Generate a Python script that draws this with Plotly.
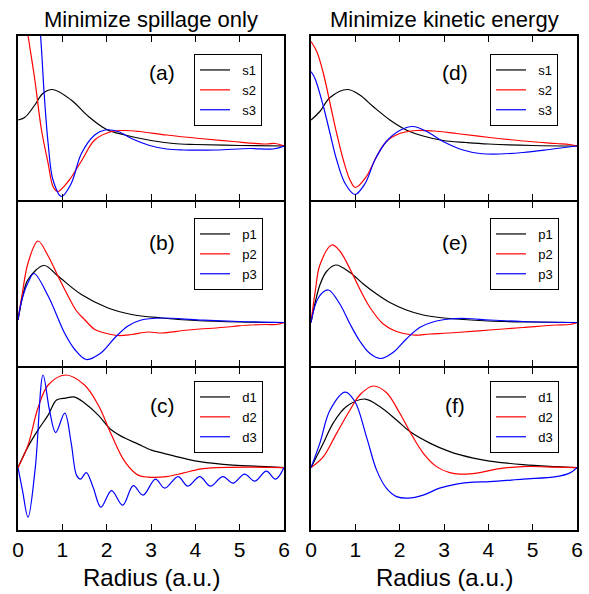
import plotly.graph_objects as go

# ---------------- data (radius in a.u., orbital amplitude in arbitrary units) ----------------
# Panel (a): minimize spillage only, s orbitals
a_s1_x = [0, 0.15, 0.38, 0.56, 0.78, 1.2, 1.59, 2.0, 2.41, 3.0, 3.5, 4.0, 5.0, 6.0]
a_s1_y = [0.52, 0.57, 0.82, 1.05, 1.13, 0.92, 0.59, 0.33, 0.22, 0.11, 0.05, 0.03, 0.01, 0.0]
a_s2_x = [0, 0.1, 0.23, 0.38, 0.53, 0.68, 0.79, 0.89, 1.13, 1.43, 1.73, 2.11, 2.41, 2.74, 3.35, 4.1, 4.85, 5.6, 5.8, 6.0]
a_s2_y = [3.7, 3.0, 2.19, 1.32, 0.32, -0.35, -0.81, -0.91, -0.71, -0.30, 0.12, 0.29, 0.31, 0.29, 0.22, 0.15, 0.09, 0.04, 0.05, 0.0]
a_s3_x = [0, 0.2, 0.4, 0.51, 0.59, 0.68, 0.79, 0.98, 1.2, 1.43, 1.73, 1.96, 2.26, 2.56, 2.97, 3.35, 3.72, 4.47, 5.23, 5.75, 6.0]
a_s3_y = [6.5, 5.0, 3.2, 2.19, 1.05, 0.05, -0.68, -1.01, -0.75, -0.15, 0.22, 0.32, 0.29, 0.15, 0.01, -0.06, -0.08, -0.08, -0.05, -0.06, 0.0]

# Panel (b): minimize spillage only, p orbitals
b_p1_x = [0, 0.1, 0.226, 0.59, 0.9, 1.43, 2.03, 2.56, 3.24, 4.0, 5.0, 6.0]
b_p1_y = [0.05, 0.5, 0.86, 1.14, 0.93, 0.56, 0.29, 0.16, 0.09, 0.04, 0.01, 0.0]
b_p2_x = [0, 0.1, 0.226, 0.45, 0.68, 0.9, 1.13, 1.32, 1.5, 1.73, 1.96, 2.26, 2.56, 2.93, 3.24, 3.72, 4.1, 4.47, 4.85, 5.23, 5.6, 5.83, 6.0]
b_p2_y = [0.05, 0.6, 1.19, 1.63, 1.33, 0.93, 0.53, 0.23, 0.06, -0.14, -0.21, -0.26, -0.24, -0.19, -0.21, -0.16, -0.13, -0.11, -0.08, -0.05, -0.04, -0.04, 0.0]
b_p3_x = [0, 0.1, 0.226, 0.36, 0.68, 1.05, 1.28, 1.54, 1.87, 2.18, 2.48, 2.78, 3.24, 4.1, 5.0, 6.0]
b_p3_y = [0.05, 0.5, 0.8, 0.98, 0.53, -0.21, -0.54, -0.74, -0.61, -0.31, -0.07, 0.05, 0.09, 0.05, 0.02, 0.0]

# Panel (c): minimize spillage only, d orbitals
c_d1_x = [0, 0.226, 0.45, 0.68, 0.87, 1.07, 1.28, 1.5, 1.81, 2.11, 2.41, 2.71, 3.01, 3.27, 3.72, 4.1, 4.85, 5.6, 6.0]
c_d1_y = [0, 0.42, 0.75, 1.05, 1.35, 1.39, 1.41, 1.29, 1.05, 0.75, 0.59, 0.47, 0.35, 0.29, 0.19, 0.12, 0.05, 0.02, 0.0]
c_d2_x = [0, 0.226, 0.45, 0.68, 1.07, 1.5, 1.81, 2.11, 2.41, 2.71, 2.93, 3.35, 3.72, 4.1, 4.47, 5.2, 6.0]
c_d2_y = [0, 0.45, 1.19, 1.65, 1.85, 1.65, 1.25, 0.65, 0.12, -0.15, -0.19, -0.18, -0.11, -0.03, 0.0, 0.01, 0.0]
c_d3_x = [0, 0.1, 0.226, 0.39, 0.565, 0.71, 0.85, 1.054, 1.2, 1.32, 1.41, 1.54, 1.69, 1.87, 2.11, 2.36, 2.6, 2.82, 3.1, 3.31, 3.61, 3.83, 4.1, 4.34, 4.62, 4.85, 5.11, 5.34, 5.6, 5.81, 6.0]
c_d3_y = [0, -0.45, -0.99, 0.0, 1.85, 1.15, 0.70, 1.09, 0.49, -0.15, -0.23, -0.10, -0.38, -0.79, -0.46, -0.75, -0.36, -0.55, -0.23, -0.41, -0.18, -0.37, -0.18, -0.37, -0.18, -0.31, -0.13, -0.27, -0.07, -0.23, 0.0]

# Panel (d): minimize kinetic energy, s orbitals
d_s1_x = [0, 0.2, 0.43, 0.82, 1.1, 1.4, 1.78, 2.15, 2.53, 2.98, 3.5, 4.0, 5.0, 6.0]
d_s1_y = [0.52, 0.69, 0.97, 1.13, 1.02, 0.79, 0.52, 0.32, 0.2, 0.11, 0.07, 0.04, 0.01, 0.0]
d_s2_x = [0, 0.13, 0.28, 0.43, 0.58, 0.73, 0.88, 1.0, 1.25, 1.48, 1.7, 2.0, 2.38, 2.76, 3.28, 4.03, 4.78, 5.53, 5.83, 6.0]
d_s2_y = [2.09, 1.89, 1.45, 0.85, 0.25, -0.28, -0.68, -0.83, -0.61, -0.21, 0.09, 0.25, 0.31, 0.30, 0.25, 0.17, 0.10, 0.05, 0.03, 0.0]
d_s3_x = [0, 0.09, 0.28, 0.43, 0.58, 0.77, 0.99, 1.22, 1.44, 1.7, 2.0, 2.3, 2.61, 2.98, 3.43, 3.81, 4.26, 4.78, 5.38, 6.0]
d_s3_y = [1.49, 1.35, 0.79, 0.25, -0.28, -0.75, -0.97, -0.75, -0.28, 0.09, 0.31, 0.39, 0.29, 0.09, -0.08, -0.15, -0.16, -0.13, -0.07, 0.0]

# Panel (e): minimize kinetic energy, p orbitals
e_p1_x = [0, 0.1, 0.2, 0.35, 0.56, 0.88, 1.18, 1.48, 1.78, 2.15, 2.53, 3.0, 4.0, 5.0, 6.0]
e_p1_y = [0, 0.42, 0.75, 1.02, 1.15, 1.0, 0.77, 0.57, 0.4, 0.25, 0.15, 0.09, 0.03, 0.01, 0.0]
e_p2_x = [0, 0.1, 0.2, 0.47, 0.65, 0.88, 1.1, 1.33, 1.63, 1.93, 2.3, 2.68, 3.28, 4.03, 4.78, 5.53, 5.83, 6.0]
e_p2_y = [0, 0.65, 1.15, 1.55, 1.43, 1.07, 0.67, 0.3, -0.03, -0.18, -0.25, -0.23, -0.2, -0.15, -0.1, -0.05, -0.04, 0.0]
e_p3_x = [0, 0.17, 0.39, 0.65, 0.88, 1.1, 1.33, 1.57, 1.85, 2.15, 2.45, 2.75, 3.13, 3.5, 4.03, 4.78, 6.0]
e_p3_y = [0, 0.5, 0.65, 0.37, -0.03, -0.37, -0.62, -0.72, -0.6, -0.33, -0.1, 0.01, 0.07, 0.08, 0.05, 0.02, 0.0]

# Panel (f): minimize kinetic energy, d orbitals
f_d1_x = [0, 0.28, 0.5, 0.8, 1.22, 1.55, 1.93, 2.23, 2.68, 3.13, 3.66, 4.03, 4.78, 5.53, 6.0]
f_d1_y = [0, 0.49, 0.89, 1.22, 1.37, 1.22, 0.95, 0.72, 0.49, 0.32, 0.19, 0.13, 0.06, 0.02, 0.0]
f_d2_x = [0, 0.28, 0.58, 0.88, 1.1, 1.4, 1.7, 2.0, 2.23, 2.53, 2.83, 3.13, 3.36, 3.81, 4.18, 4.78, 5.53, 6.0]
f_d2_y = [0, 0.22, 0.69, 1.15, 1.45, 1.63, 1.5, 1.09, 0.72, 0.29, 0.02, -0.1, -0.13, -0.1, -0.03, 0.02, 0.01, 0.0]
f_d3_x = [0, 0.2, 0.43, 0.77, 0.99, 1.25, 1.48, 1.7, 1.93, 2.19, 2.53, 2.9, 3.28, 3.66, 4.03, 4.78, 5.53, 5.83, 6.0]
f_d3_y = [0, 0.49, 1.15, 1.51, 1.32, 0.62, -0.05, -0.41, -0.58, -0.61, -0.55, -0.41, -0.33, -0.29, -0.28, -0.23, -0.18, -0.11, 0.0]

x_ticks = [0, 1, 2, 3, 4, 5, 6]
column_titles = ["Minimize spillage only", "Minimize kinetic energy"]
x_title = "Radius (a.u.)"
series_colors = ["black", "red", "blue"]

panels = [
    ("(a)", ["s1", "s2", "s3"], [(a_s1_x, a_s1_y), (a_s2_x, a_s2_y), (a_s3_x, a_s3_y)]),
    ("(b)", ["p1", "p2", "p3"], [(b_p1_x, b_p1_y), (b_p2_x, b_p2_y), (b_p3_x, b_p3_y)]),
    ("(c)", ["d1", "d2", "d3"], [(c_d1_x, c_d1_y), (c_d2_x, c_d2_y), (c_d3_x, c_d3_y)]),
    ("(d)", ["s1", "s2", "s3"], [(d_s1_x, d_s1_y), (d_s2_x, d_s2_y), (d_s3_x, d_s3_y)]),
    ("(e)", ["p1", "p2", "p3"], [(e_p1_x, e_p1_y), (e_p2_x, e_p2_y), (e_p3_x, e_p3_y)]),
    ("(f)", ["d1", "d2", "d3"], [(f_d1_x, f_d1_y), (f_d2_x, f_d2_y), (f_d3_x, f_d3_y)]),
]

# ---------------- layout geometry ----------------
W, H = 589, 594
FONT = "Liberation Sans, Arial, Helvetica, sans-serif"
col_px = [(18, 284), (311, 577)]
row_px = [(36, 200), (202, 366), (368, 530)]
row_yrange = [(-1.08, 2.2), (-0.87, 2.41), (-1.246, 1.99)]
label_py = [72, 243, 405]
legend_top_py = [54, 218, 381]
legend_left_px = [194, 490]
NBSP = "\u00a0"

fig = go.Figure()
layout = dict(
    template="none",
    width=W, height=H, margin=dict(l=0, r=0, t=0, b=0, pad=0, autoexpand=False),
    paper_bgcolor="white", plot_bgcolor="white",
    font=dict(family=FONT, color="black"),
    annotations=[], showlegend=True,
)

for idx, (label, names, series) in enumerate(panels):
    col, row = idx // 3, idx % 3
    n = idx + 1
    xa = "x" if n == 1 else f"x{n}"
    ya = "y" if n == 1 else f"y{n}"
    lg = "legend" if n == 1 else f"legend{n}"
    x0, x1 = col_px[col]
    y0, y1 = row_px[row]
    for (xs, ys), nm, c in zip(series, names, series_colors):
        fig.add_trace(go.Scatter(
            x=xs, y=ys, mode="lines", name=NBSP * 2 + nm, xaxis=xa, yaxis=ya, legend=lg,
            line=dict(color=c, width=1.2, shape="spline", smoothing=1.0),
        ))
    bottom = row == 2
    layout["xaxis" if n == 1 else f"xaxis{n}"] = dict(
        domain=[x0 / W, x1 / W], anchor=ya, range=[0, 6], automargin=False,
        tickvals=x_ticks, ticks="inside", ticklen=6, tickwidth=1.3, tickcolor="black",
        showline=True, linewidth=2, linecolor="black", mirror="ticks",
        showgrid=False, zeroline=False, showticklabels=bottom,
        tickfont=dict(size=21, family=FONT, color="black"),
    )
    layout["yaxis" if n == 1 else f"yaxis{n}"] = dict(
        domain=[(H - y1) / H, (H - y0) / H], anchor=xa, range=list(row_yrange[row]),
        automargin=False,
        showline=True, linewidth=2, linecolor="black", mirror=True,
        ticks="", showticklabels=False, showgrid=False, zeroline=False,
    )
    layout[lg] = dict(
        x=legend_left_px[col] / W, y=(H - legend_top_py[row]) / H,
        xanchor="left", yanchor="top", xref="paper", yref="paper",
        bgcolor="white", bordercolor="black", borderwidth=1,
        font=dict(size=13, family=FONT, color="black"),
        traceorder="normal", tracegroupgap=0,
    )
    layout["annotations"].append(dict(
        text=label, xref="paper", yref="paper",
        x=(x0 + 0.543 * (x1 - x0)) / W, y=(H - label_py[row]) / H,
        xanchor="center", yanchor="middle", showarrow=False,
        font=dict(size=21, family=FONT, color="black"),
    ))

for col, t in enumerate(column_titles):
    x0, x1 = col_px[col]
    layout["annotations"].append(dict(
        text=t, xref="paper", yref="paper", x=(x0 + x1) / 2 / W, y=(H - 19) / H,
        xanchor="center", yanchor="middle", showarrow=False,
        font=dict(size=22, family=FONT, color="black"),
    ))
    layout["annotations"].append(dict(
        text=x_title, xref="paper", yref="paper", x=(x0 + x1) / 2 / W, y=(H - 577) / H,
        xanchor="center", yanchor="middle", showarrow=False,
        font=dict(size=24, family=FONT, color="black"),
    ))

fig.update_layout(**layout)
fig.write_html("out.html")
